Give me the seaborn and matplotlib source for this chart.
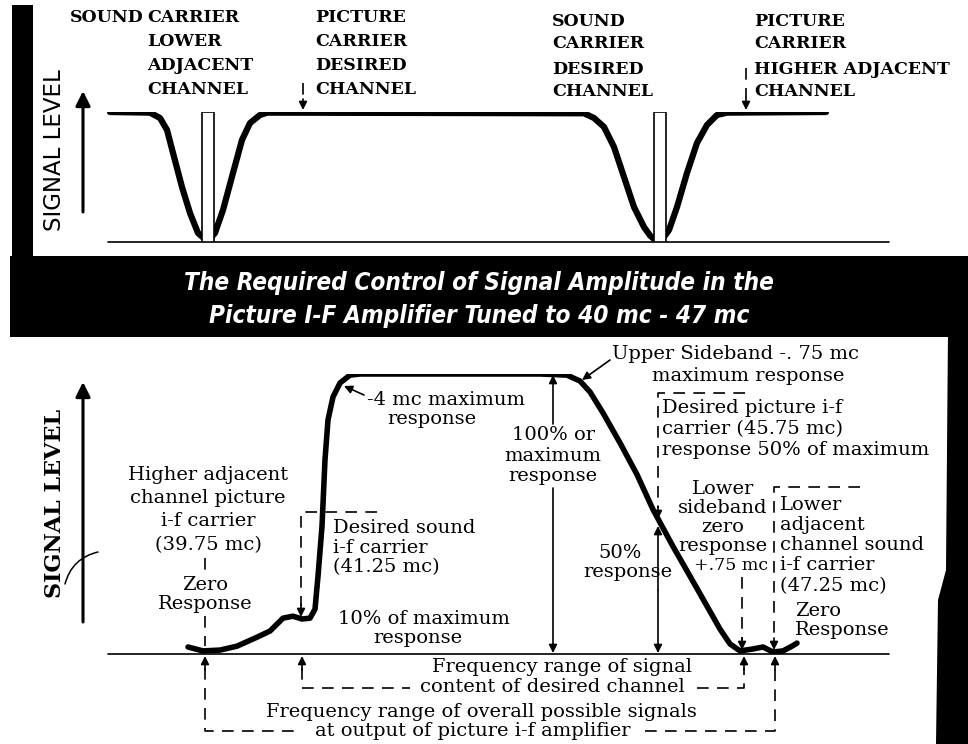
import matplotlib
matplotlib.use("Agg")
import matplotlib.pyplot as plt
import seaborn as sns
from matplotlib.patches import Rectangle, Polygon

# top panel: flat picture-i-f level with two sound-carrier traps
top_x = [110, 150, 160, 167, 173, 182, 190, 198, 203, 207, 211, 215, 223, 233, 242, 250, 260, 267,
         584, 594, 604, 614, 624, 634, 644, 650, 654, 661, 665, 669, 677, 687, 697, 707, 717, 727, 826]
top_level = [100, 99.5, 95.4, 86.2, 68.5, 42.3, 22.3, 6.9, 3.5, 2.3, 3.5, 6.9, 24.6, 53.1, 78.5, 91.5, 97.7, 99.5,
             99.0, 95.4, 88.5, 73.1, 50.0, 26.9, 11.5, 5.0, 2.3, 2.3, 5.0, 9.2, 26.9, 53.1, 76.2, 90.0, 97.7, 99.5, 100]
carrier_x = [207.5, 659.5]
carrier_level = [100, 100]

# bottom panel: overall picture i-f response curve
bot_x = [188, 203, 220, 237, 257, 270, 283, 293, 302, 310, 315, 318, 322, 325, 328, 333, 340, 350, 360,
         540, 567, 580, 590, 603, 620, 637, 653, 673, 690, 707, 720, 730, 740, 753, 763, 773, 783, 792, 797]
bot_level = [2.5, 1.1, 1.4, 2.8, 6.0, 8.2, 12.8, 13.5, 12.5, 12.8, 16.0, 27.8, 45.6, 69.4, 83.6, 91.8, 96.8, 99.6, 100,
             100, 99.6, 97.5, 93.6, 86.1, 75.4, 64.1, 51.6, 38.4, 27.8, 17.1, 8.9, 3.6, 1.1, 1.8, 2.5, 0.7, 1.1, 2.8, 3.9]

title_lines = ["The Required Control of Signal Amplitude in the",
               "Picture I-F Amplifier Tuned to 40 mc - 47 mc"]

sns.set_theme(style="white")
plt.rcParams["font.family"] = ["DejaVu Serif"]
plt.rcParams["text.color"] = "black"

W, H = 968, 744
fig = plt.figure(figsize=(W / 100, H / 100), dpi=100)
fig.patch.set_facecolor("white")

# layout axes in picture pixels
ax = fig.add_axes([0, 0, 1, 1])
ax.set_xlim(0, W)
ax.set_ylim(H, 0)
ax.axis("off")


def level_axes(y0, y100):
    a = fig.add_axes([0, 1 - y0 / H, 1, (y0 - y100) / H])
    a.set_xlim(0, W)
    a.set_ylim(0, 100)
    a.axis("off")
    a.patch.set_alpha(0)
    return a


ax_top = level_axes(242, 112)
ax_bot = level_axes(654, 374)

sns.lineplot(x=top_x, y=top_level, ax=ax_top, sort=False, estimator=None, color="black",
             lw=4.5, solid_capstyle="round", solid_joinstyle="round", zorder=2)
ax_top.bar(carrier_x, carrier_level, width=12, color="white", edgecolor="black", lw=1.2, zorder=3)
sns.lineplot(x=bot_x, y=bot_level, ax=ax_bot, sort=False, estimator=None, color="black",
             lw=4.0, solid_capstyle="round", solid_joinstyle="round", zorder=2)

# black frame pieces
ax.add_patch(Rectangle((12, 5), 21, 255, color="black", lw=0))
ax.add_patch(Rectangle((10, 256), 958, 81, color="black", lw=0))
ax.add_patch(Polygon([(948, 330), (968, 330), (968, 744), (936, 744), (938, 600), (946, 570)],
                     closed=True, color="black", lw=0))

for i, line in enumerate(title_lines):
    ax.text(479, 283 + i * 33, line, ha="center", va="center", color="white", fontsize=17.5,
            family=["Liberation Sans Narrow", "DejaVu Sans"], stretch="condensed",
            style="italic", weight="bold")

DASH = (0, (7, 5))


def dashed(xs, ys):
    ax.plot(xs, ys, color="black", lw=1.2, linestyle=DASH, solid_capstyle="butt")


def arrow(x0, y0, x1, y1, lw=1.2, ms=12, style="-|>"):
    ax.annotate("", xy=(x1, y1), xytext=(x0, y0),
                arrowprops=dict(arrowstyle=style, color="black", lw=lw, mutation_scale=ms,
                                shrinkA=0, shrinkB=0))


def block(x, ys, lines, ha="center", size=14, weight="normal", family="DejaVu Serif"):
    for y, s in zip(ys, lines):
        ax.text(x, y, s, ha=ha, va="center", fontsize=size, weight=weight, family=family,
                color="black")


# ---- top panel
ax.plot([108, 889], [242, 242], color="black", lw=1.2)
arrow(83, 212, 83, 91, lw=2.2, ms=22)
ax.text(55, 150, "SIGNAL LEVEL", rotation=90, ha="center", va="center", fontsize=16.5,
        family="DejaVu Sans", color="black")

cap = dict(ha="left", size=12.5, weight="bold")
block(70, [17], ["SOUND"], **cap)
block(147, [17, 41, 66, 89], ["CARRIER", "LOWER", "ADJACENT", "CHANNEL"], **cap)
block(315, [17, 41, 66, 89], ["PICTURE", "CARRIER", "DESIRED", "CHANNEL"], **cap)
block(552, [21, 44, 69, 92], ["SOUND", "CARRIER", "DESIRED", "CHANNEL"], **cap)
block(754, [21, 44, 69, 92], ["PICTURE", "CARRIER", "HIGHER ADJACENT", "CHANNEL"], **cap)

dashed([303, 303], [83, 100])
arrow(303, 99, 303, 110, ms=12)
dashed([746, 746], [68, 98])
arrow(746, 98, 746, 110, ms=12)

# ---- bottom panel
ax.plot([108, 889], [654, 654], color="black", lw=1.2)
arrow(83, 622, 83, 382, lw=2.2, ms=22)
ax.text(55, 503, "SIGNAL LEVEL", rotation=90, ha="center", va="center", fontsize=16, weight="bold",
        family="DejaVu Serif", color="black")
ax.annotate("", xy=(98, 552), xytext=(65, 584),
            arrowprops=dict(arrowstyle="-", color="black", lw=1.1, shrinkA=0, shrinkB=0,
                            connectionstyle="arc3,rad=-0.3"))

block(446, [400], ["-4 mc maximum"])
block(432, [419], ["response"])
arrow(364, 395, 344, 386)

block(736, [354], ["Upper Sideband -. 75 mc"])
block(748, [376], ["maximum response"])
arrow(610, 360, 582, 380)

block(553, [435, 456, 476], ["100% or", "maximum", "response"])
arrow(553, 424, 553, 375)
arrow(553, 488, 553, 653)

block(662, [408, 429, 450], ["Desired picture i-f", "carrier (45.75 mc)", "response 50% of maximum"], ha="left")
dashed([745, 658, 658], [393, 393, 508])
arrow(658, 506, 658, 519)
block(620, [553], ["50%"])
block(628, [572], ["response"])
arrow(658, 590, 658, 526)
arrow(658, 590, 658, 653)

block(723, [489, 508, 527, 546], ["Lower", "sideband", "zero", "response"])
block(768, [565], ["+.75 mc"], ha="right", size=12.5)
dashed([742, 742], [577, 640])
arrow(742, 638, 742, 650)

block(780, [505, 525, 545, 565, 586],
      ["Lower", "adjacent", "channel sound", "i-f carrier", "(47.25 mc)"], ha="left")
dashed([860, 774, 774], [487, 487, 640])
arrow(774, 638, 774, 650)
block(795, [611, 630], ["Zero", "Response"], ha="left")

block(208, [475, 498, 521, 545], ["Higher adjacent", "channel picture", "i-f carrier", "(39.75 mc)"])
dashed([205, 205], [558, 572])
block(205, [585, 604], ["Zero", "Response"])
dashed([205, 205], [616, 646])

block(333, [528, 548, 567], ["Desired sound", "i-f carrier", "(41.25 mc)"], ha="left")
dashed([377, 301, 301], [512, 512, 606])
arrow(301, 604, 301, 617)

block(424, [619], ["10% of maximum"])
block(418, [638], ["response"])

# frequency range brackets below the baseline
block(562, [667], ["Frequency range of signal"])
block(552, [687], ["content of desired channel"])
block(481, [712], ["Frequency range of overall possible signals"])
block(473, [731], ["at output of picture i-f amplifier"])

for x in [205, 302, 744, 775]:
    arrow(x, 670, x, 656)
dashed([302, 302, 410], [668, 688, 688])
dashed([697, 744, 744], [688, 688, 668])
dashed([205, 205, 300], [668, 731, 731])
dashed([645, 775, 775], [731, 731, 668])

fig.savefig("out.png", dpi=100, facecolor="white")
